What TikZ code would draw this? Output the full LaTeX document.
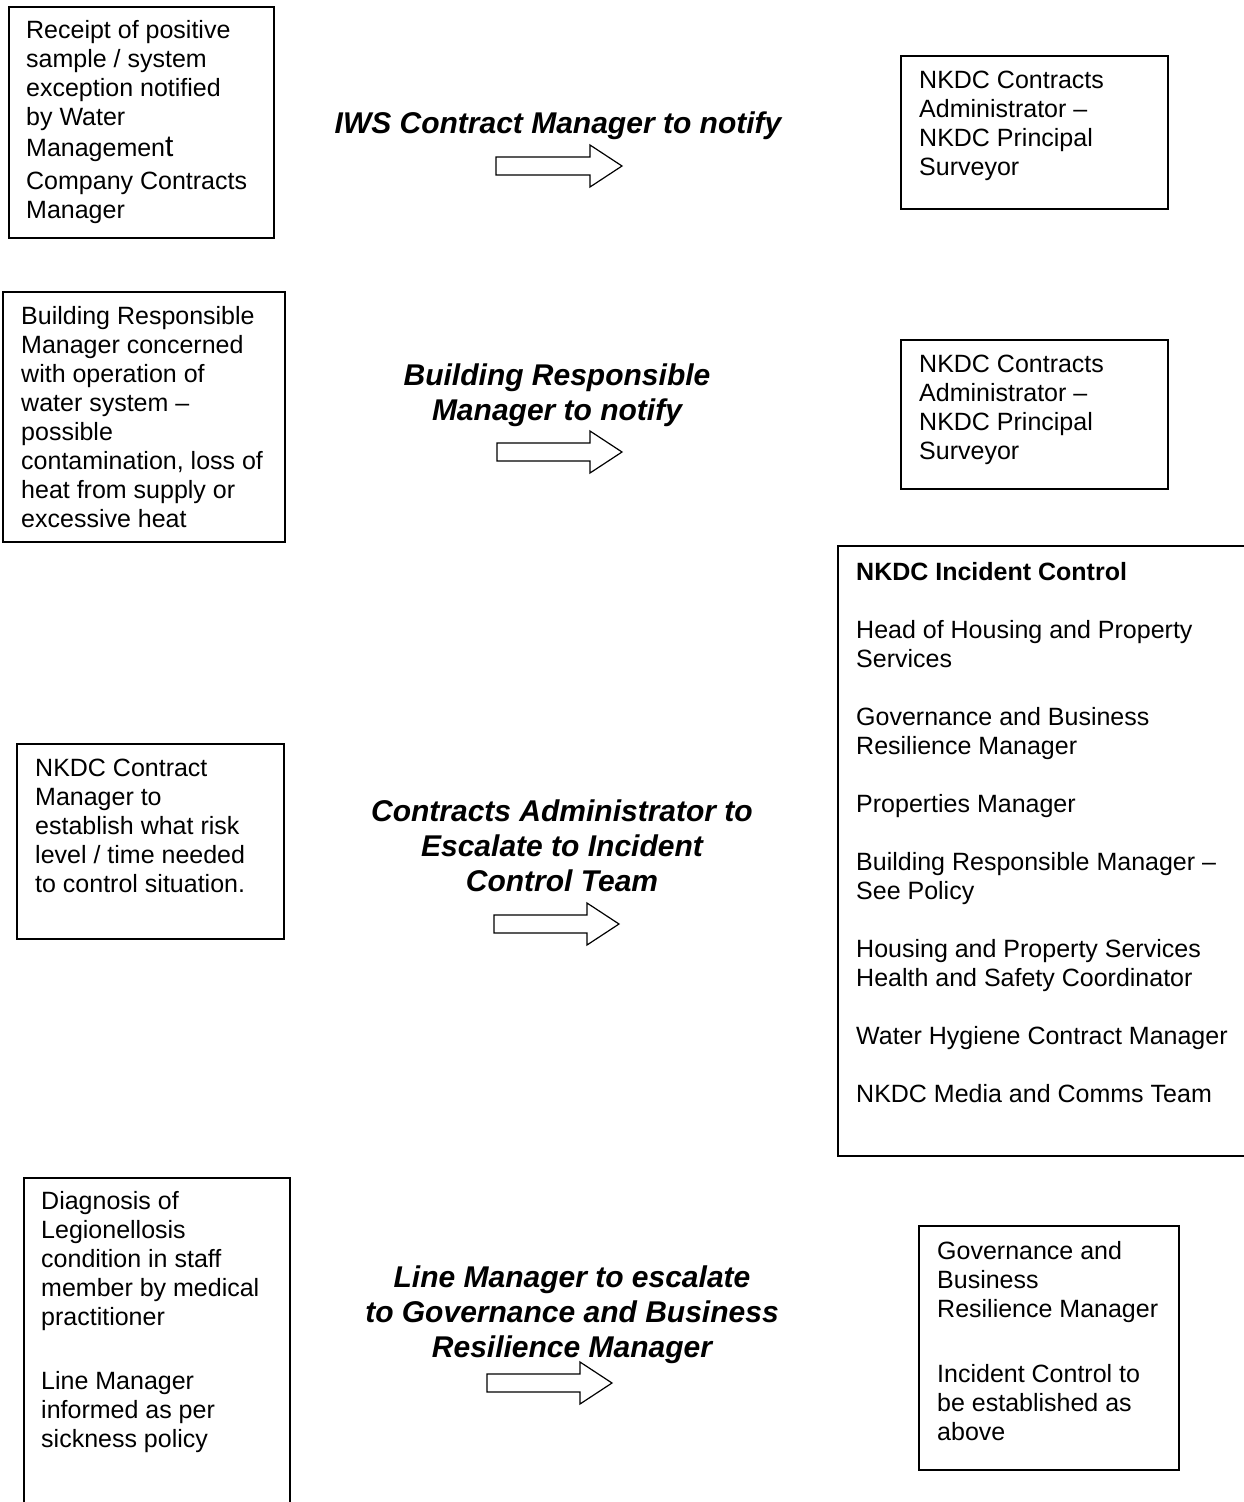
\documentclass[tikz,border=0pt]{standalone}
\usepackage{fontspec}
\setmainfont{Liberation Sans}
\newcommand{\lefttab}[1]{\begin{tabular}[t]{@{}l@{}}#1\end{tabular}}
\newcommand{\centtab}[1]{\begin{tabular}[t]{@{}c@{}}#1\end{tabular}}
\begin{document}
\begin{tikzpicture}[x=1pt,y=-1pt,
  box/.style={draw=black,line width=1.6pt,inner sep=0pt,anchor=north west},
  body/.style={anchor=base west,inner sep=0pt,font=\fontsize{25}{29}\selectfont},
  lab/.style={anchor=base,inner sep=0pt,font=\fontsize{30}{35}\selectfont\bfseries\itshape},
  harrow/.style={draw=black,line width=1.2pt,fill=white,line join=miter}]
\useasboundingbox (0,0) rectangle (1244,1502);
\clip (0,0) rectangle (1244,1502);
\fill[white] (0,0) rectangle (1244,1502);
% boxes
\node[box,minimum width=265pt,minimum height=231pt] (bA) at (8,6) {};
\node[box,minimum width=267pt,minimum height=153pt] (bB) at (900,55) {};
\node[box,minimum width=282pt,minimum height=250pt] (bC) at (2,291) {};
\node[box,minimum width=267pt,minimum height=149pt] (bD) at (900,339) {};
\node[box,minimum width=420pt,minimum height=610pt] (bE) at (837,545) {};
\node[box,minimum width=267pt,minimum height=195pt] (bF) at (16,743) {};
\node[box,minimum width=266pt,minimum height=340pt] (bG) at (23,1177) {};
\node[box,minimum width=260pt,minimum height=244pt] (bH) at (918,1225) {};
% texts
\node[body] (tA) at (26,38) {\lefttab{Receipt of positive\\sample / system\\exception notified\\by Water\\[2pt]Managemen{\fontsize{30}{29}\selectfont t}\\[4pt]Company Contracts\\Manager}};
\node[body] (tB) at (919,88) {\lefttab{NKDC Contracts\\Administrator –\\NKDC Principal\\Surveyor}};
\node[body] (tC) at (21,324) {\lefttab{Building Responsible\\Manager concerned\\with operation of\\water system –\\possible\\contamination, loss of\\heat from supply or\\excessive heat}};
\node[body] (tD) at (919,372) {\lefttab{NKDC Contracts\\Administrator –\\NKDC Principal\\Surveyor}};
\node[body] (tE) at (856,580) {\lefttab{\textbf{NKDC Incident Control}\\[29pt]Head of Housing and Property\\Services\\[29pt]Governance and Business\\Resilience Manager\\[29pt]Properties Manager\\[29pt]Building Responsible Manager –\\See Policy\\[29pt]Housing and Property Services\\Health and Safety Coordinator\\[29pt]Water Hygiene Contract Manager\\[29pt]NKDC Media and Comms Team}};
\node[body] (tF) at (35,776) {\lefttab{NKDC Contract\\Manager to\\establish what risk\\level / time needed\\to control situation.}};
\node[body] (tG) at (41,1209) {\lefttab{Diagnosis of\\Legionellosis\\condition in staff\\member by medical\\practitioner\\[35pt]Line Manager\\informed as per\\sickness policy}};
\node[body] (tH) at (937,1259) {\lefttab{Governance and\\Business\\Resilience Manager\\[36pt]Incident Control to\\be established as\\above}};
% labels
\node[lab] (l1) at (558,133) {\centtab{IWS Contract Manager to notify}};
\node[lab] (l2) at (557,385) {\centtab{Building Responsible\\Manager to notify}};
\node[lab] (l3) at (562,821) {\centtab{Contracts Administrator to\\Escalate to Incident\\Control Team}};
\node[lab] (l4) at (572,1287) {\centtab{Line Manager to escalate\\to Governance and Business\\Resilience Manager}};
% hollow arrows
\foreach \n/\xa/\xb/\yc in {a1/496/622/166, a2/497/622/452, a3/494/619/924, a4/487/612/1383}{
  \coordinate (\n s) at (\xa,\yc);
  \coordinate (\n t) at (\xb,\yc);
  \draw[harrow] (\n s) ++(0,-9) -- ++(\xb-\xa-32,0) -- ++(0,-12) -- (\n t) -- ++(-32,21) -- ++(0,-12) -- ++(\xa-\xb+32,0) -- cycle;
}
\end{tikzpicture}
\end{document}
